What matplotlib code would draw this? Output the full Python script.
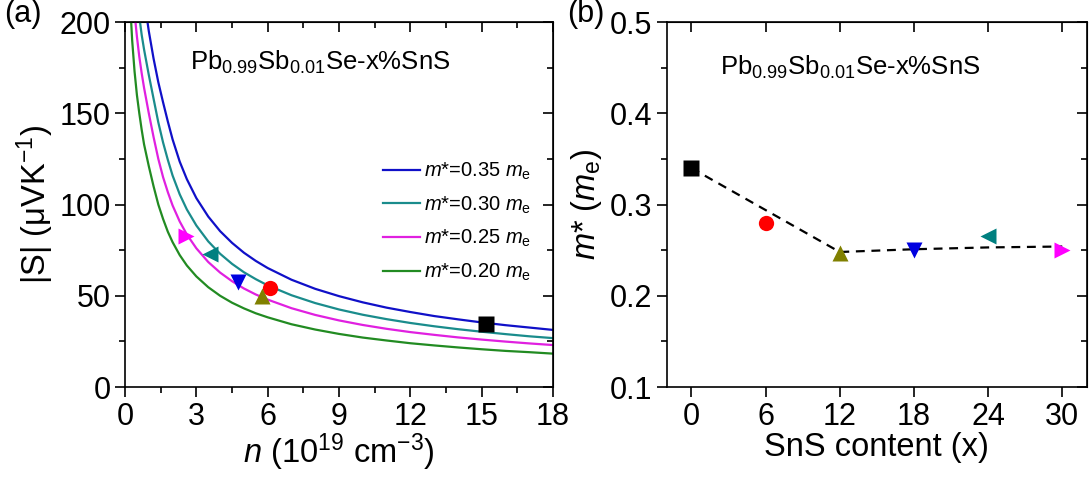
import numpy as np
import matplotlib
matplotlib.use('Agg')
import matplotlib.pyplot as plt
from matplotlib.ticker import MultipleLocator, NullLocator

plt.rcParams['font.family'] = ['Liberation Sans', 'DejaVu Sans']
plt.rcParams['mathtext.fontset'] = 'custom'
plt.rcParams['mathtext.rm'] = 'Liberation Sans'
plt.rcParams['mathtext.it'] = 'Liberation Sans:italic'
plt.rcParams['mathtext.default'] = 'regular'

# ---- (a) Pisarenko curves ----
n_fit = [0.2, 0.3, 0.4, 0.5, 0.6, 0.7, 0.8, 0.9, 1.0, 1.2, 1.4, 1.6, 1.8,
         2.0, 2.3, 2.6, 3.0, 3.5, 4.0, 4.5, 5.0, 5.5, 6.0, 7.0, 8.0, 9.0,
         10.0, 11.0, 12.0, 13.0, 14.0, 15.0, 16.0, 17.0, 18.0]
s_035 = [295, 273, 257, 243, 231, 221, 212, 204, 195, 180, 167, 156, 145.5,
         135.7, 123.5, 113.9, 103.5, 93.4, 85.4, 79.0, 73.6, 69.1, 65.2, 58.8,
         53.8, 49.8, 46.4, 43.5, 41.1, 38.9, 37.1, 35.4, 33.9, 32.6, 31.3]
s_030 = [265, 243, 227, 214, 203, 193, 185, 178, 171, 158, 145, 134, 124.5,
         115.9, 105.6, 97.3, 88.5, 79.8, 73.0, 67.5, 62.9, 59.1, 55.7, 50.3,
         46.0, 42.5, 39.6, 37.2, 35.1, 33.3, 31.7, 30.3, 29.0, 27.8, 26.8]
s_025 = [243, 221, 205, 192, 181, 172, 164, 157, 150, 137, 125, 115, 106.8,
         99.5, 90.7, 83.6, 76.0, 68.5, 62.7, 58.0, 54.0, 50.7, 47.9, 43.2,
         39.5, 36.5, 34.0, 31.9, 30.1, 28.6, 27.2, 26.0, 24.9, 23.9, 23.0]
s_020 = [214, 190, 173, 160, 150, 141, 133, 127, 121, 110, 100, 92.1, 85.1,
         79.4, 72.3, 66.6, 60.6, 54.7, 50.0, 46.2, 43.1, 40.4, 38.2, 34.4,
         31.5, 29.1, 27.1, 25.5, 24.0, 22.8, 21.7, 20.7, 19.8, 19.1, 18.3]
fit_labels = ['$\\mathit{m}$*=0.35 $\\mathit{m}_\\mathrm{e}$',
              '$\\mathit{m}$*=0.30 $\\mathit{m}_\\mathrm{e}$',
              '$\\mathit{m}$*=0.25 $\\mathit{m}_\\mathrm{e}$',
              '$\\mathit{m}$*=0.20 $\\mathit{m}_\\mathrm{e}$']
fit_colors = ['#1010c8', '#1a8c8c', '#e020e0', '#228b22']

# measured samples (x = 0, 6, 12, 18, 24, 30)
n_meas = [15.2, 6.1, 5.75, 4.75, 3.57, 2.55]
s_meas = [34.5, 54, 50, 57.5, 73, 83]
markers = ['s', 'o', '^', 'v', '<', '>']
mcolors = ['black', 'red', '#808000', '#0000e0', '#008080', '#ff00ff']

# ---- (b) effective mass vs SnS content ----
sns_x = [0, 6, 12, 18, 24, 30]
m_eff = [0.34, 0.28, 0.247, 0.25, 0.265, 0.25]
guide_x = [0, 12, 18, 24, 30]
guide_y = [0.34, 0.248, 0.251, 0.253, 0.254]

fig = plt.figure(figsize=(10.91, 4.79), dpi=100)
ax1 = fig.add_axes([0.1146, 0.192, 0.3923, 0.762])
ax2 = fig.add_axes([0.611, 0.192, 0.3853, 0.762])

FS = 22      # tick labels
LFS = 23.5   # axis labels
TFS = 18.5   # composition text

for s, lab, c in zip([s_035, s_030, s_025, s_020], fit_labels, fit_colors):
    ax1.plot(n_fit, s, color=c, lw=1.6, label=lab)
for n, s, mk, c in zip(n_meas, s_meas, markers, mcolors):
    ax1.plot(n, s, mk, color=c, ms=11, mec='none')

ax1.set_xlim(0, 18)
ax1.set_ylim(0, 200)
ax1.xaxis.set_major_locator(MultipleLocator(3))
ax1.xaxis.set_minor_locator(MultipleLocator(1.5))
ax1.yaxis.set_major_locator(MultipleLocator(50))
ax1.yaxis.set_minor_locator(MultipleLocator(25))
ax1.set_xlabel('$\\mathit{n}$ (10$^{19}$ cm$^{-3}$)', fontsize=LFS, labelpad=0)
ax1.set_ylabel('|S| ($\\mu$VK$^{-1}$)', fontsize=LFS, labelpad=2)
ax1.text(0.152, 0.868, 'Pb$_{0.99}$Sb$_{0.01}$Se-x%SnS', transform=ax1.transAxes,
         fontsize=TFS)
ax1.legend(loc='upper left', bbox_to_anchor=(0.58, 0.648), frameon=False,
           fontsize=14.5, handlelength=1.8, handletextpad=0.2,
           labelspacing=0.62, borderpad=0)

ax2.plot(guide_x, guide_y, '--', color='black', lw=1.6, dashes=(4, 3))
for x, m, mk, c in zip(sns_x, m_eff, markers, mcolors):
    ax2.plot(x, m, mk, color=c, ms=11, mec='none')
ax2.set_xlim(-2, 32)
ax2.set_ylim(0.1, 0.5)
ax2.set_xticks(sns_x)
ax2.xaxis.set_minor_locator(NullLocator())
ax2.yaxis.set_major_locator(MultipleLocator(0.1))
ax2.yaxis.set_minor_locator(MultipleLocator(0.05))
ax2.set_xlabel('SnS content (x)', fontsize=LFS, labelpad=0)
ax2.set_ylabel('$\\mathit{m}$* ($\\mathit{m}_\\mathrm{e}$)', fontsize=LFS, labelpad=4)
ax2.text(0.126, 0.855, 'Pb$_{0.99}$Sb$_{0.01}$Se-x%SnS', transform=ax2.transAxes,
         fontsize=TFS)

for ax in (ax1, ax2):
    for sp in ax.spines.values():
        sp.set_linewidth(1.2)
    ax.tick_params(which='both', direction='out', labelsize=FS, width=1.2)
    ax.tick_params(which='major', length=7)
    ax.tick_params(which='minor', length=4)
    # inward ticks on top and right, no labels
    top = ax.secondary_xaxis('top')
    right = ax.secondary_yaxis('right')
    top.set_xticks(ax.get_xticks())
    top.xaxis.set_minor_locator(ax.xaxis.get_minor_locator())
    right.yaxis.set_major_locator(ax.yaxis.get_major_locator())
    right.yaxis.set_minor_locator(ax.yaxis.get_minor_locator())
    for sec in (top, right):
        sec.tick_params(which='both', direction='in', width=1.2,
                        labeltop=False, labelright=False)
        sec.tick_params(which='major', length=7)
        sec.tick_params(which='minor', length=4)

fig.text(0.004, 0.955, '(a)', fontsize=FS)
fig.text(0.52, 0.955, '(b)', fontsize=FS)

fig.savefig('out.png', dpi=100)
